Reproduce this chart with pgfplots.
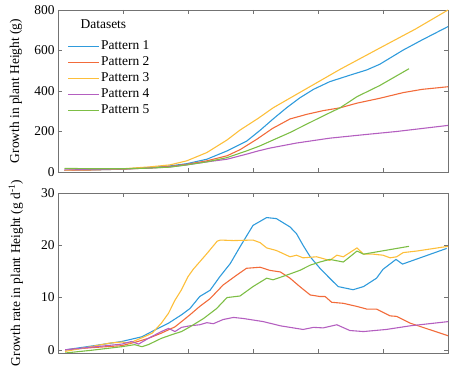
\documentclass[border=0pt]{standalone}
\usepackage{fontspec}
\setmainfont{Liberation Serif}
\usepackage{pgfplots}
\pgfplotsset{compat=1.18}

\definecolor{pblue}{HTML}{2F9BDC}
\definecolor{porange}{HTML}{F26B3A}
\definecolor{pyellow}{HTML}{FDBF3A}
\definecolor{ppurple}{HTML}{B45FC0}
\definecolor{pgreen}{HTML}{7DBE45}

\newcommand{\lblfont}{\fontsize{13.5}{16}\selectfont}

\pgfplotsset{
  growth/.style={
    scale only axis, width=390bp,
    xmin=0, xmax=60,
    xtick={0,10,...,60}, xticklabels={},
    axis line style={draw=black!55},
    every tick/.style={draw=black!55, line width=0.7pt},
    major tick length=4bp,
    tick align=inside,
    tick label style={font=\lblfont},
    /pgf/number format/assume math mode=true,
    every axis y label/.style={at={(axis description cs:-0.108,0.5)}, rotate=90, anchor=center, font=\lblfont},
    every axis plot/.append style={line width=1.1pt, line join=round},
  },
}

\begin{document}
\begin{tikzpicture}
% cumulative growth
\begin{axis}[growth, name=top, height=162bp,
    ymin=0, ymax=800, ytick={0,200,...,800},
    ylabel={Growth in plant Height (g)},
    legend style={draw=none, fill=none, at={(axis description cs:0.024,0.827)},
      anchor=north west, inner sep=0pt, row sep=0pt,
      nodes={inner sep=1.5bp, text height=9.5bp, text depth=3.6bp, anchor=west},
      font=\lblfont},
    legend image code/.code={\draw[#1] (0bp,0bp) -- (31bp,0bp);},
]
\addplot[pblue] coordinates {(1,8) (5,10) (10,14) (14,22) (17.2,30) (19.8,41) (22.9,63) (26,104) (29,152) (31.1,206) (33.1,262) (35.2,318) (37.2,366) (39.3,408) (41.8,446) (44.9,478) (47.5,504) (49.5,532) (53.1,602) (56,652) (60,718)};
\addlegendentry{Pattern 1}
\addplot[porange] coordinates {(1,8) (5,10) (10,14) (14,20) (17.2,27) (19.8,38) (22.9,55) (26,80) (28,110) (30.6,162) (33,215) (35.7,262) (38.3,285) (40.8,303) (43.4,317) (46,340) (49.5,364) (53.1,392) (56,408) (60,421)};
\addlegendentry{Pattern 2}
\addplot[pyellow] coordinates {(1,8) (5,11) (10,16) (14,25) (17.2,35) (19.8,55) (22.9,96) (26,158) (28,207) (30.8,265) (33.1,317) (38.3,413) (43.4,507) (49.5,612) (55,706) (60,800)};
\addlegendentry{Pattern 3}
\addplot[ppurple] coordinates {(1,10) (5,12) (10,15) (14,19) (17.2,25) (19.8,35) (22.9,50) (26,63) (29,88) (30.8,104) (32.6,118) (36.7,143) (41.8,167) (47,184) (52.1,200) (60,230)};
\addlegendentry{Pattern 4}
\addplot[pgreen] coordinates {(1,18) (5,16) (10,16) (14,19) (17.2,24) (19.8,35) (22.9,50) (26,71) (29,104) (31,128) (33.1,158) (35.7,195) (38.3,237) (41,280) (43.4,317) (46,372) (49.5,427) (54,510)};
\addlegendentry{Pattern 5}
\node[anchor=base west, font=\lblfont] at (axis description cs:0.049,0.883) {Datasets};
\end{axis}

% growth rate
\begin{axis}[growth, name=bot, height=160bp,
    at={(top.south west)}, anchor=north west, yshift=-21bp,
    ymin=-0.6, ymax=30, ytick={0,10,20,30},
    ylabel={Growth rate in plant Height (g d\textsuperscript{-1})},
]
\addplot[pblue] coordinates {(1.1,0) (5,0.7) (9.8,1.6) (12.9,2.5) (14.9,3.8) (17,5.1) (19,6.7) (20.3,7.9) (21.8,10.2) (23.4,11.4) (24.9,14) (26.5,16.5) (28,19.7) (30,23.8) (32.1,25.3) (33.6,25.1) (35.7,23.5) (36.7,22.2) (37.7,20) (38.8,17.8) (40.3,15.6) (41.8,13.7) (43.1,12.1) (45.4,11.5) (47,12.1) (49,13.7) (50,15.4) (52,17.3) (53,16.4) (59.8,19.4)};
\addplot[porange] coordinates {(1.1,0) (5,0.4) (9.8,0.8) (12,1.5) (13.9,2.2) (15.9,3.2) (18,4.4) (20.3,6.7) (21.8,8.3) (23.4,9.8) (25.4,12.4) (27.5,14.3) (29,15.6) (31.1,15.8) (32.6,15.2) (34.2,14.9) (35.7,13.7) (37.2,12.1) (38.8,10.5) (40.3,10.2) (41.1,10.2) (42.1,9.1) (43.9,8.9) (46,8.3) (47.5,7.8) (49,7.8) (51.1,6.5) (52.1,6.4) (54.2,5.1) (60,2.7)};
\addplot[pyellow] coordinates {(1.1,-0.3) (5,0.6) (8,1.3) (9.8,1.5) (11,1.3) (12.9,2.3) (14.5,3.2) (15.9,5.1) (17,7) (18,9.5) (19,11.5) (20,14) (20.8,15.4) (22.9,18.4) (24.5,20.8) (25,21) (27,20.9) (30,21) (31.1,20.5) (32.1,19.5) (33.6,19) (35.7,17.8) (36.7,18.1) (37.7,17.6) (39.8,17.8) (41.8,17.1) (42.9,18.1) (43.9,17.8) (46,19.5) (47,18.3) (48.5,18.3) (50,18.1) (51.1,17.6) (52.1,17.8) (53.1,18.6) (55.2,18.9) (60,19.8)};
\addplot[ppurple] coordinates {(1.1,0) (5,0.5) (9.8,1.1) (11.3,1.6) (12.4,1.1) (13.9,2.2) (15.9,3.5) (17,4.1) (18,3.5) (19,4.3) (20.3,4.6) (21.8,4.8) (22.9,5.2) (23.9,5.0) (25.4,5.8) (27,6.2) (28.5,6.0) (31.6,5.4) (34.2,4.6) (37.7,3.9) (39.3,4.3) (40.8,4.2) (42.9,4.8) (44.9,3.7) (47,3.5) (50.5,3.9) (54.2,4.6) (60,5.4)};
\addplot[pgreen] coordinates {(1.1,-0.6) (5,-0.1) (9.8,0.6) (11.8,1) (12.9,0.6) (13.9,1) (15.9,2.2) (17.5,2.9) (19,3.5) (20.3,4.4) (22.4,6) (24.4,7.9) (26,10) (28,10.3) (30,12.1) (32.1,13.7) (33.1,13.4) (35.2,14.3) (37.2,15.2) (38.8,16.2) (40.3,16.8) (41.8,17.3) (43.9,16.8) (46,18.9) (47,18.3) (54,19.8)};
\end{axis}

\pgfresetboundingbox
\path (top.north west) ++(-58bp,10bp) coordinate (bbA);
\path (bot.south east) ++(10bp,-13bp) coordinate (bbB);
\path (bbA) rectangle (bbB);
\end{tikzpicture}
\end{document}
